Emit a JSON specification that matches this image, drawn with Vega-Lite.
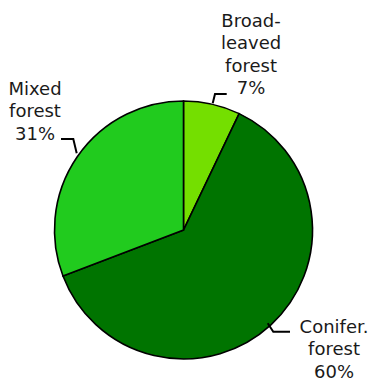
{
  "$schema": "https://vega.github.io/schema/vega-lite/v6.json",
  "width": 374,
  "height": 382,
  "padding": 0,
  "autosize": {"type": "none"},
  "background": "white",
  "config": {"view": {"stroke": null}},
  "datasets": {
    "slices": [
      {"forest": "Broad-leaved forest", "share": 7.1, "ord": 1},
      {"forest": "Conifer. forest", "share": 62.1, "ord": 2},
      {"forest": "Mixed forest", "share": 30.8, "ord": 3}
    ],
    "leaders": [
      {"forest": "Broad-leaved forest", "seq": 1, "u": 0.2264, "v": 0.9822},
      {"forest": "Broad-leaved forest", "seq": 2, "u": 0.2442, "v": 1.0543},
      {"forest": "Broad-leaved forest", "seq": 3, "u": 0.3349, "v": 1.0543},
      {"forest": "Mixed forest", "seq": 1, "u": -0.8279, "v": 0.5946},
      {"forest": "Mixed forest", "seq": 2, "u": -0.8543, "v": 0.7054},
      {"forest": "Mixed forest", "seq": 3, "u": -0.9496, "v": 0.7054},
      {"forest": "Conifer. forest", "seq": 1, "u": 0.6527, "v": -0.7233},
      {"forest": "Conifer. forest", "seq": 2, "u": 0.6961, "v": -0.7884},
      {"forest": "Conifer. forest", "seq": 3, "u": 0.8256, "v": -0.7884}
    ],
    "labels": [
      {"text": "Broad-\nleaved\nforest\n7%", "u": 0.5233, "v": 1.5736},
      {"text": "Mixed\nforest\n31%", "u": -1.1512, "v": 1.0465},
      {"text": "Conifer.\nforest\n60%", "u": 1.1667, "v": -0.7984}
    ]
  },
  "layer": [
    {
      "data": {"name": "slices"},
      "mark": {"type": "arc", "outerRadius": 129, "stroke": "black", "strokeWidth": 1.6},
      "encoding": {
        "theta": {"field": "share", "type": "quantitative", "stack": true},
        "order": {"field": "ord", "type": "quantitative"},
        "x": {"datum": 0, "type": "quantitative", "scale": {"domain": [-1.4225, 1.4767], "nice": false, "zero": false}, "axis": null},
        "y": {"datum": 0, "type": "quantitative", "scale": {"domain": [-1.1783, 1.7829], "nice": false, "zero": false}, "axis": null},
        "color": {
          "field": "forest",
          "type": "nominal",
          "scale": {
            "domain": ["Broad-leaved forest", "Conifer. forest", "Mixed forest"],
            "range": ["#74DF00", "#007400", "#21CB1E"]
          },
          "legend": null
        }
      }
    },
    {
      "data": {"name": "leaders"},
      "mark": {"type": "line", "color": "black", "strokeWidth": 2},
      "encoding": {
        "x": {"field": "u", "type": "quantitative", "axis": null},
        "y": {"field": "v", "type": "quantitative", "axis": null},
        "detail": {"field": "forest", "type": "nominal"},
        "order": {"field": "seq", "type": "quantitative"}
      }
    },
    {
      "data": {"name": "labels"},
      "mark": {
        "type": "text",
        "lineBreak": "\n",
        "align": "center",
        "baseline": "alphabetic",
        "font": "DejaVu Sans",
        "fontSize": 18,
        "lineHeight": 22.3,
        "color": "#1a1a1a"
      },
      "encoding": {
        "x": {"field": "u", "type": "quantitative", "axis": null},
        "y": {"field": "v", "type": "quantitative", "axis": null},
        "text": {"field": "text", "type": "nominal"}
      }
    }
  ]
}
